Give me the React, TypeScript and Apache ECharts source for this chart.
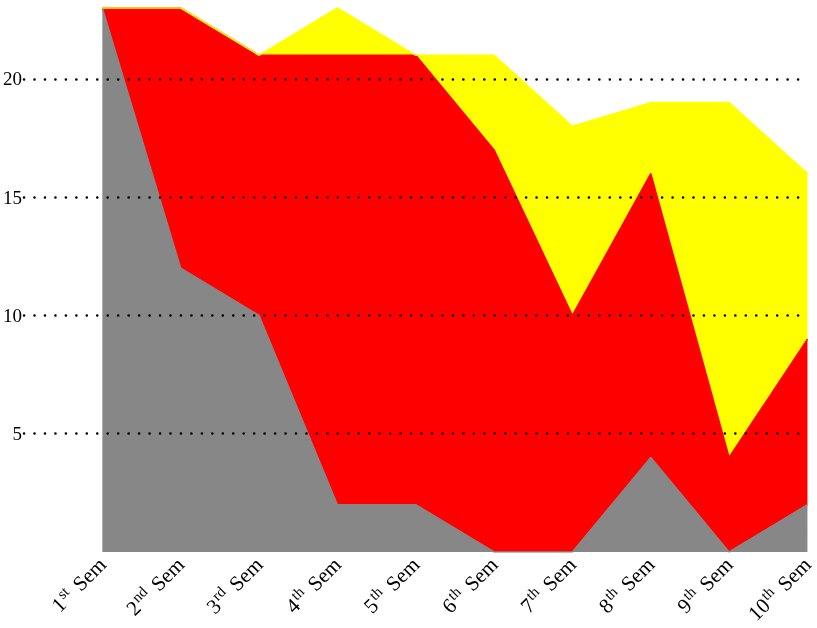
import React, { useEffect, useRef } from "react";
import * as echarts from "echarts";

const semNumbers = [1, 2, 3, 4, 5, 6, 7, 8, 9, 10];
const semSuffixes = ["st", "nd", "rd", "th", "th", "th", "th", "th", "th", "th"];
const grayValues = [23, 12, 10, 2, 2, 0, 0, 4, 0, 2];
const redValues = [0, 11, 11, 19, 19, 17, 10, 12, 4, 7];
const yellowValues = [0, 0, 0, 2, 0, 4, 8, 3, 15, 7];

const FONT = "'Liberation Serif', 'DejaVu Serif', serif";

export default function App() {
  const ref = useRef<HTMLDivElement>(null);
  useEffect(() => {
    if (!ref.current) return;
    const chart = echarts.init(ref.current, undefined, { renderer: "svg" });
    // leading empty category puts the first semester one step right of the axis start
    const categories = ["", ...semNumbers.map((n) => String(n))];
    const mk = (vals: number[]) => ["-", ...vals];
    const mkSeries = (name: string, vals: number[], color: string) => ({
      name,
      type: "line",
      stack: "total",
      data: mk(vals),
      symbol: "none",
      lineStyle: { color, width: 1.5 },
      itemStyle: { color },
      areaStyle: { color, opacity: 1 },
      z: 2,
    });
    chart.setOption({
      animation: false,
      grid: { left: 22, right: 6, top: 8, bottom: 76, containLabel: false },
      xAxis: {
        type: "category",
        data: categories,
        boundaryGap: false,
        axisLine: { show: false },
        axisTick: { show: false },
        splitLine: { show: false },
        axisLabel: {
          interval: 0,
          rotate: 45,
          margin: 9,
          color: "#000",
          fontFamily: FONT,
          formatter: (v: string, idx: number) => {
            const i = idx - 1;
            if (i < 0) return "";
            return `{n|${semNumbers[i]}}{s|${semSuffixes[i]}}{t|Sem}`;
          },
          rich: {
            n: { fontSize: 21, fontFamily: FONT, color: "#000", lineHeight: 26 },
            s: {
              fontSize: 15,
              fontFamily: FONT,
              color: "#000",
              lineHeight: 14,
              verticalAlign: "top",
              padding: [0, 8, 0, 1],
            },
            t: { fontSize: 21, fontFamily: FONT, color: "#000", lineHeight: 26 },
          },
        },
      },
      yAxis: {
        type: "value",
        min: 0,
        max: 23,
        interval: 5,
        z: 10,
        axisLine: { show: false },
        axisTick: { show: false },
        axisLabel: {
          margin: 2,
          showMinLabel: false,
          showMaxLabel: false,
          color: "#000",
          fontSize: 19,
          fontFamily: FONT,
        },
        splitLine: {
          show: true,
          showMinLine: false,
          showMaxLine: false,
          lineStyle: { color: "#000", width: 2.5, type: [0.1, 10.36], cap: "round" },
        },
      },
      series: [
        mkSeries("gray", grayValues, "#878787"),
        mkSeries("red", redValues, "#ff0000"),
        mkSeries("yellow", yellowValues, "#ffff00"),
      ],
    });
    return () => chart.dispose();
  }, []);
  return (
    <div
      ref={ref}
      style={{ position: "fixed", left: 0, top: 0, width: 817, height: 628 }}
    />
  );
}
